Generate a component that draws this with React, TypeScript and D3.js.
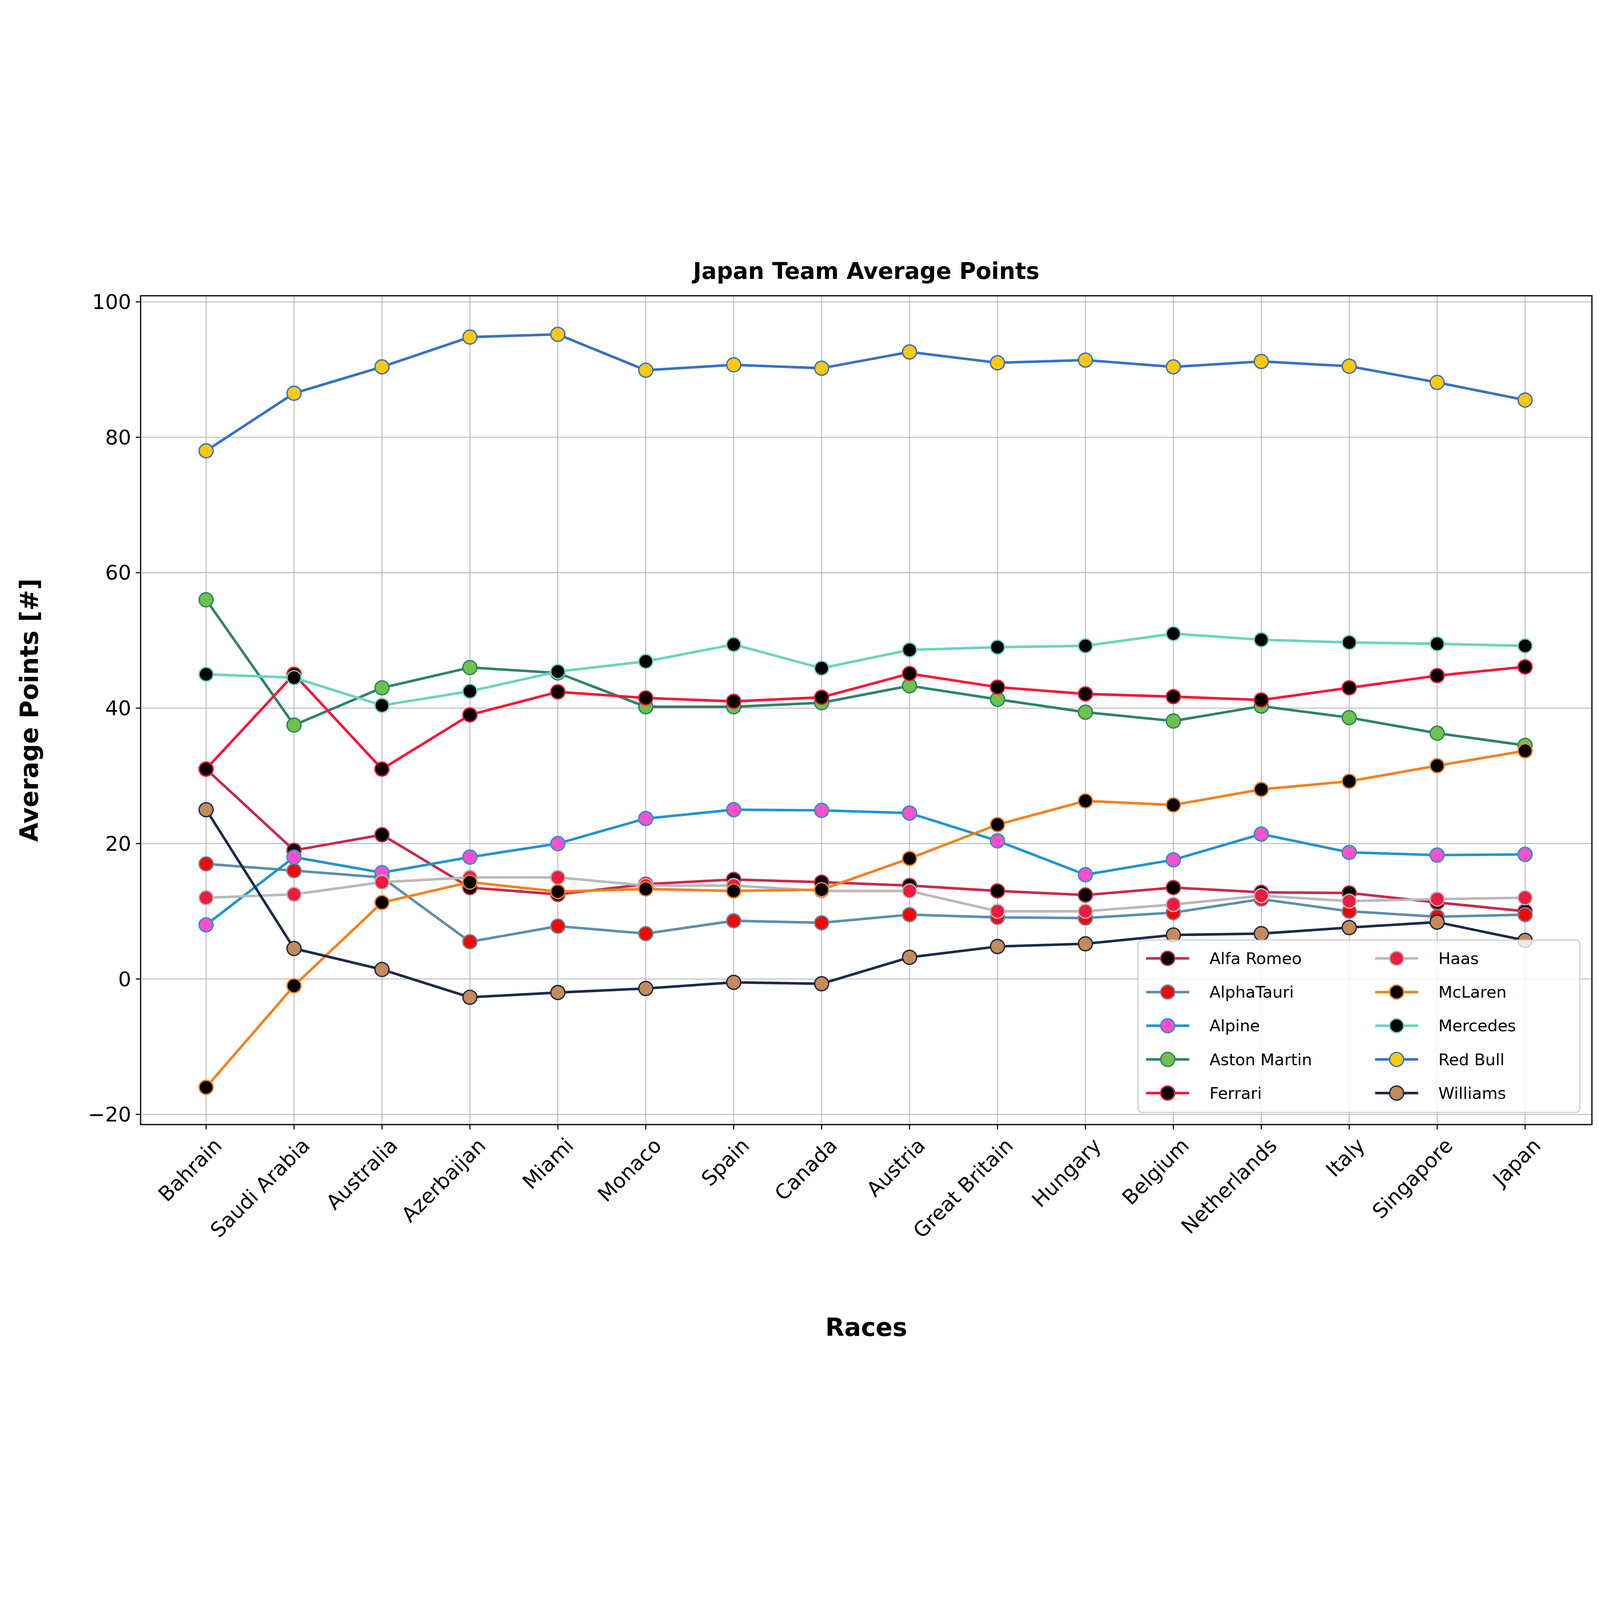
import React from "react";
import * as d3 from "d3";

const races = ["Bahrain", "Saudi Arabia", "Australia", "Azerbaijan", "Miami", "Monaco", "Spain", "Canada", "Austria", "Great Britain", "Hungary", "Belgium", "Netherlands", "Italy", "Singapore", "Japan"];

const teams = ["Alfa Romeo", "AlphaTauri", "Alpine", "Aston Martin", "Ferrari", "Haas", "McLaren", "Mercedes", "Red Bull", "Williams"];

const alfaRomeo = [31, 19, 21.3, 13.5, 12.5, 14, 14.7, 14.3, 13.8, 13, 12.4, 13.5, 12.8, 12.7, 11.3, 10];
const alphaTauri = [17, 16, 15, 5.5, 7.8, 6.7, 8.6, 8.3, 9.5, 9.1, 9, 9.8, 11.8, 10, 9.2, 9.5];
const alpine = [8, 18, 15.7, 18, 20, 23.7, 25, 24.9, 24.5, 20.4, 15.4, 17.6, 21.4, 18.7, 18.3, 18.4];
const astonMartin = [56, 37.5, 43, 46, 45.2, 40.2, 40.2, 40.8, 43.3, 41.3, 39.4, 38.1, 40.3, 38.6, 36.3, 34.5];
const ferrari = [31, 45, 31, 39, 42.4, 41.5, 41, 41.6, 45.1, 43.1, 42.1, 41.7, 41.2, 43, 44.8, 46.1];
const haas = [12, 12.5, 14.3, 15, 15, 13.8, 13.8, 13, 13, 10, 10, 11, 12.3, 11.5, 11.8, 12];
const mclaren = [-16, -1, 11.3, 14.3, 12.9, 13.3, 13, 13.2, 17.8, 22.8, 26.3, 25.7, 28, 29.2, 31.5, 33.7];
const mercedes = [45, 44.5, 40.4, 42.5, 45.4, 46.9, 49.4, 45.9, 48.6, 49, 49.2, 51, 50.1, 49.7, 49.5, 49.2];
const redBull = [78, 86.5, 90.4, 94.8, 95.2, 89.9, 90.7, 90.2, 92.6, 91, 91.4, 90.4, 91.2, 90.5, 88.1, 85.5];
const williams = [25, 4.5, 1.4, -2.7, -2, -1.4, -0.5, -0.7, 3.2, 4.8, 5.2, 6.5, 6.7, 7.6, 8.4, 5.7];

const seriesValues = [alfaRomeo, alphaTauri, alpine, astonMartin, ferrari, haas, mclaren, mercedes, redBull, williams];
const lineColors = ["#C9294B", "#5E8FAA", "#2293D1", "#2D826D", "#F91536", "#B6BABD", "#F58020", "#6CD3BF", "#3671C6", "#1B2A4A"];
const markerColors = ["#000000", "#FF0000", "#FF4FCB", "#6CC24A", "#000000", "#ED1C3F", "#000000", "#000000", "#FFC906", "#C68A5A"];

const yTicks = [-20, 0, 20, 40, 60, 80, 100];

const W = 5940, H = 4140;
const left = 522, right = 5910, top = 198, bottom = 3275;
const FONT = "DejaVu Sans, sans-serif";

export default function App() {
  const x = d3.scaleLinear().domain([-0.745, 15.76]).range([left, right]);
  const y = d3.scaleLinear().domain([-21.5, 100.9]).range([bottom, top]);
  const line = d3.line<number>().x((_, i) => x(i)).y((d) => y(d));

  const lx = 4225, ly = 2590, lw = 1640, lh = 640;
  const rowH = 125;

  return (
    <svg
      viewBox={`0 0 ${W} ${H}`}
      style={{ position: "fixed", left: 0, top: 0, width: "100vw", height: "100vh", background: "#fff" }}
      fontFamily={FONT}
    >
      <rect width={W} height={H} fill="#fff" />
      {races.map((_, i) => (
        <line key={"gx" + i} x1={x(i)} x2={x(i)} y1={top} y2={bottom} stroke="#b0b0b0" strokeWidth={3} />
      ))}
      {yTicks.map((t) => (
        <line key={"gy" + t} x1={left} x2={right} y1={y(t)} y2={y(t)} stroke="#b0b0b0" strokeWidth={3} />
      ))}
      {seriesValues.map((vals, k) => (
        <g key={teams[k]}>
          <path d={line(vals) || ""} fill="none" stroke={lineColors[k]} strokeWidth={9.5} strokeLinejoin="round" />
          {vals.map((v, i) => (
            <circle key={i} cx={x(i)} cy={y(v)} r={26} fill={markerColors[k]} stroke={lineColors[k]} strokeWidth={5} />
          ))}
        </g>
      ))}
      <rect x={left} y={top} width={right - left} height={bottom - top} fill="none" stroke="#000" strokeWidth={4.5} />
      {yTicks.map((t) => (
        <g key={"yt" + t}>
          <line x1={left - 18} x2={left} y1={y(t)} y2={y(t)} stroke="#000" strokeWidth={4} />
          <text x={left - 35} y={y(t)} dy="0.35em" textAnchor="end" fontSize={76}>{t < 0 ? "\u2212" + Math.abs(t) : t}</text>
        </g>
      ))}
      {races.map((r, i) => (
        <g key={"xt" + r}>
          <line x1={x(i)} x2={x(i)} y1={bottom} y2={bottom + 18} stroke="#000" strokeWidth={4} />
          <text transform={`translate(${x(i) + 25},${bottom + 45}) rotate(-45)`} textAnchor="end" dy="0.7em" fontSize={76}>{r}</text>
        </g>
      ))}
      <text x={(left + right) / 2} y={135} textAnchor="middle" fontSize={84} fontWeight="bold">Japan Team Average Points</text>
      <text x={(left + right) / 2} y={4060} textAnchor="middle" fontSize={92} fontWeight="bold">Races</text>
      <text transform={`translate(140,${(top + bottom) / 2}) rotate(-90)`} textAnchor="middle" fontSize={92} fontWeight="bold">Average Points [#]</text>
      <g>
        <rect x={lx} y={ly} width={lw} height={lh} rx={14} fill="#fff" fillOpacity={0.8} stroke="#cccccc" strokeWidth={4} />
        {teams.map((t, k) => {
          const col = Math.floor(k / 5);
          const row = k % 5;
          const hx = lx + 30 + col * 850;
          const hy = ly + 68 + row * rowH;
          return (
            <g key={"lg" + t}>
              <line x1={hx} x2={hx + 160} y1={hy} y2={hy} stroke={lineColors[k]} strokeWidth={9.5} />
              <circle cx={hx + 80} cy={hy} r={26} fill={markerColors[k]} stroke={lineColors[k]} strokeWidth={5} />
              <text x={hx + 235} y={hy} dy="0.35em" fontSize={60}>{t}</text>
            </g>
          );
        })}
      </g>
    </svg>
  );
}
